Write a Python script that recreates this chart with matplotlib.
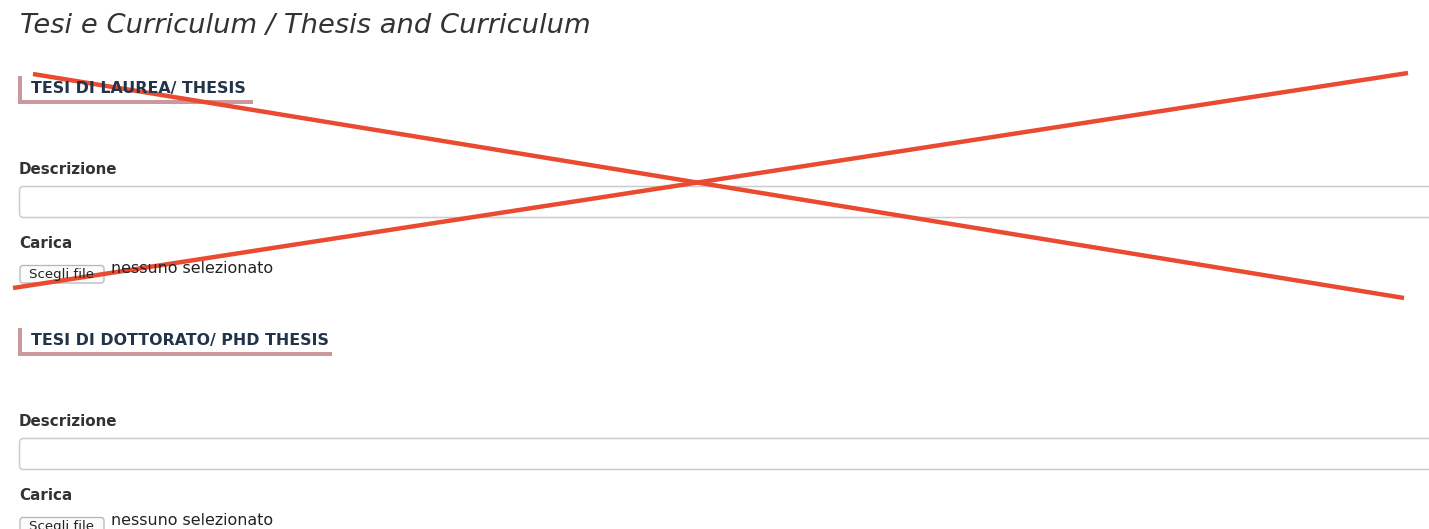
import matplotlib
matplotlib.use("Agg")
import matplotlib.pyplot as plt
from matplotlib.patches import FancyBboxPatch, Rectangle

W, H = 1429, 529

title = "Tesi e Curriculum / Thesis and Curriculum"
section_titles = ["TESI DI LAUREA/ THESIS", "TESI DI DOTTORATO/ PHD THESIS"]
section_tops = [76, 328]
section_bar_ends = [253, 332]
field_label = "Descrizione"
upload_label = "Carica"
button_text = "Scegli file"
file_status = "nessuno selezionato"

# red cross lines (x0, y0, x1, y1)
cross_x1 = [33, 1404]
cross_y1 = [74, 298]
cross_x2 = [13, 1408]
cross_y2 = [288, 73]

plt.rcParams['font.family'] = ['DejaVu Sans']

fig = plt.figure(figsize=(W / 100, H / 100), dpi=100)
ax = fig.add_axes([0, 0, 1, 1])
ax.set_xlim(0, W)
ax.set_ylim(H, 0)
ax.axis('off')

ax.text(20, 26, title, fontsize=19.75, style='italic', color='#333333',
        va='center', ha='left')

bar_col = '#c9999b'
for top, bar_end, stitle in zip(section_tops, section_bar_ends, section_titles):
    # left bar
    ax.add_patch(Rectangle((18, top), 4, 27.5, color=bar_col, lw=0))
    # bottom bar
    ax.add_patch(Rectangle((18, top + 24), bar_end - 18, 3.5, color=bar_col, lw=0))
    ax.text(31, top + 12.5, stitle, fontsize=11.4, fontweight='bold',
            color='#22344a', va='center', ha='left')

    base = top + 93
    ax.text(19, base, field_label, fontsize=10.9, fontweight='bold',
            color='#333333', va='center', ha='left')
    ax.add_patch(FancyBboxPatch((19.5, base + 17.5), 1500, 31,
                                boxstyle="round,pad=0,rounding_size=4",
                                fc='white', ec='#cccccc', lw=1.1))
    ax.text(19, base + 75, upload_label, fontsize=10.9, fontweight='bold',
            color='#333333', va='center', ha='left')
    ax.add_patch(FancyBboxPatch((20, base + 96.5), 84, 17.5,
                                boxstyle="round,pad=0,rounding_size=3",
                                fc='#fbfbfb', ec='#b5b5b5', lw=0.9))
    ax.text(62, base + 105.5, button_text, fontsize=9.6, color='#222222',
            va='center', ha='center')
    ax.text(111, base + 99.5, file_status, fontsize=11.4, color='#222222',
            va='center', ha='left')

red = '#ea4a30'
ax.plot(cross_x1, cross_y1, color=red, lw=3.2, solid_capstyle='butt')
ax.plot(cross_x2, cross_y2, color=red, lw=3.2, solid_capstyle='butt')

fig.savefig('out.png', dpi=100, facecolor='white')
